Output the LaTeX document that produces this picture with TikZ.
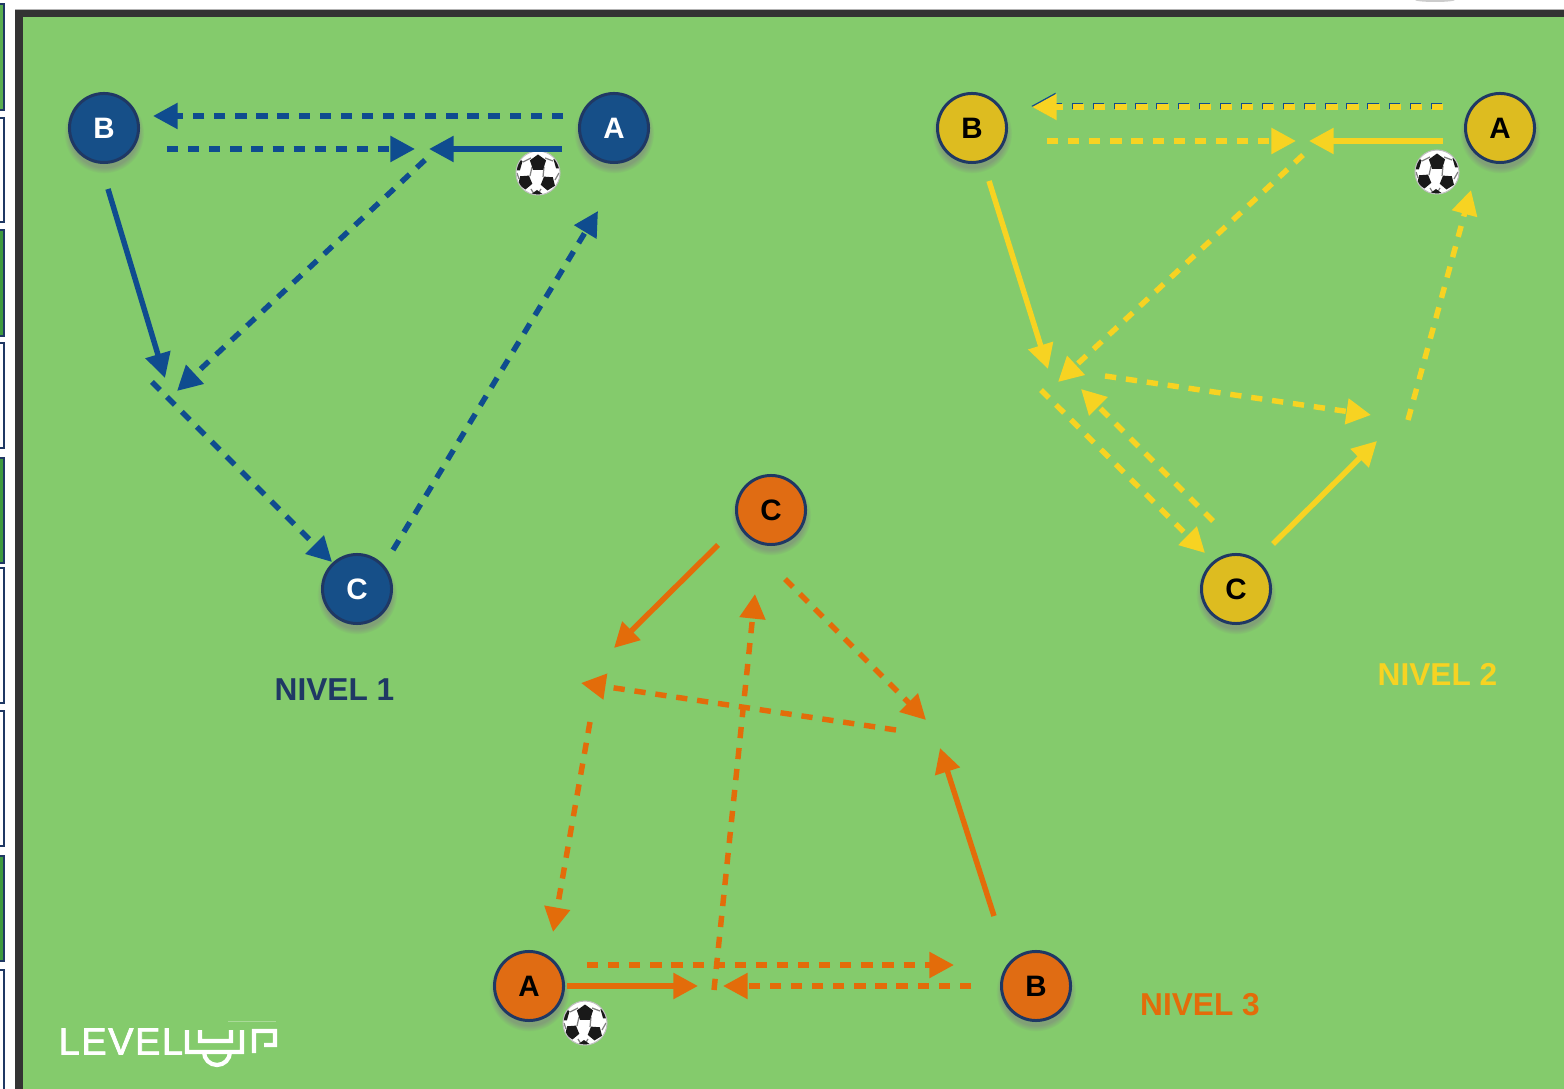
\documentclass[tikz,border=0pt]{standalone}
\usepackage{fontspec}
\setmainfont{Liberation Sans}
\usetikzlibrary{arrows.meta,shadows}
\definecolor{field}{HTML}{84CB6C}
\definecolor{frame}{HTML}{333333}
\definecolor{navy}{HTML}{1F3864}
\definecolor{bluefill}{HTML}{164F88}
\definecolor{blueline}{HTML}{0F4C8F}
\definecolor{yellowfill}{HTML}{DDBC20}
\definecolor{yellowline}{HTML}{F7D322}
\definecolor{orangefill}{HTML}{E06C13}
\definecolor{orangeline}{HTML}{E36C0A}
\definecolor{tabgreen}{HTML}{3F9A3F}
\tikzset{
    player/.style={circle, draw=navy, line width=0.85pt, minimum size=0.69cm,
        inner sep=0pt, font=\fontsize{8.4}{10}\selectfont\bfseries,
        circular drop shadow={shadow xshift=0pt, shadow yshift=-1.3pt, shadow scale=1.16, opacity=0.55}},
    run/.style={->, line width=1.55pt},
    pass/.style={run, dash pattern=on 3.2pt off 2.8pt},
    level/.style={font=\fontsize{9}{10}\selectfont\bfseries, inner sep=0pt},
    ball/.pic={
        \fill[white] (0,0) circle (22);
        \begin{scope}
            \clip (0,0) circle (22);
            \draw[gray, line width=0.35pt] (-6,-6) -- (-8,3) (6,-6) -- (5,4) (-7,16) -- (-4,21) (3,16) -- (0,21)
                (-7,-15) -- (-15,-11) (7,-15) -- (15,-12) (-19,6) -- (-21,0) (17,7) -- (21,0);
            \foreach \px/\py/\pr/\pa in {0/-10/8.5/-90, -13/9/7.5/-130, 10/10/7.5/-50, -23/-9/8/-20, 23/-11/8/-160, -1/25/8/-90}
                \fill[black!90] (\px,\py) +(\pa:\pr) -- +(\pa+72:\pr) -- +(\pa+144:\pr) -- +(\pa+216:\pr) -- +(\pa+288:\pr) -- cycle;
        \end{scope}
        \draw[gray!50, line width=0.3pt] (0,0) circle (22);
    },
}
\begin{document}
\begin{tikzpicture}[x=0.01cm, y=-0.01cm, >={Triangle[length=7pt, width=7.1pt]}]
    \useasboundingbox (0,0) rectangle (1564,1089);
    \clip (0,0) rectangle (1564,1089);

    \fill[frame] (15,10) rectangle (1564,1089);
    \fill[field] (23,17) rectangle (1564,1089);
    \draw[gray!60, line width=0.2pt] (15,9.5) -- (1564,9.5);
    \fill[gray!40] (1435,0) ellipse (20 and 2);

    \foreach \ytop/\ybot/\tab in {4/110/tabgreen!60!field, 118/222/white, 230/336/tabgreen, 343/448/white,
        458/563/tabgreen, 568/703/white, 711/846/white, 856/961/tabgreen, 970/1095/white}
        \draw[navy, fill=\tab, line width=0.7pt] (-8,\ytop) rectangle (4,\ybot);

    % nivel 1
    \node[player, fill=bluefill, text=white] (bB) at (104,128) {B};
    \node[player, fill=bluefill, text=white] (bA) at (614,128) {A};
    \node[player, fill=bluefill, text=white] (bC) at (357,589) {C};
    \pic (bBall) at (538,173) {ball};
    \node[level, text=navy] (bLevel) at (334.5,690) {NIVEL 1};

    \coordinate (b1) at (563,116); \coordinate (b2) at (153,116);
    \coordinate (b3) at (167,149); \coordinate (b4) at (415,149);
    \coordinate (b5) at (562,149); \coordinate (b6) at (429,149);
    \coordinate (b7) at (425,160); \coordinate (b8) at (177,391);
    \coordinate (b9) at (108,189); \coordinate (b10) at (165,378);
    \coordinate (b11) at (152,382); \coordinate (b12) at (332,562);
    \coordinate (b13) at (393,550); \coordinate (b14) at (598,211);

    \begin{scope}[blueline]
        \draw[pass] (b1) -- (b2);
        \draw[pass] (b3) -- (b4);
        \draw[run] (b5) -- (b6);
        \draw[pass] (b7) -- (b8);
        \draw[run] (b9) -- (b10);
        \draw[pass] (b11) -- (b12);
        \draw[pass] (b13) -- (b14);
    \end{scope}

    % nivel 2
    \node[player, fill=yellowfill] (yB) at (972,128) {B};
    \node[player, fill=yellowfill] (yA) at (1500,128) {A};
    \node[player, fill=yellowfill] (yC) at (1236,589) {C};
    \pic (yBall) at (1437,172) {ball};
    \node[level, text=yellowline] (yLevel) at (1437.5,674) {NIVEL 2};

    \coordinate (y1) at (1443,107); \coordinate (y2) at (1032,107);
    \coordinate (y1u) at (1442,106); \coordinate (y2u) at (1031,106);
    \coordinate (y3) at (1047,141); \coordinate (y4) at (1296,141);
    \coordinate (y5) at (1443,141); \coordinate (y6) at (1309,141);
    \coordinate (y7) at (1303,155); \coordinate (y8) at (1058,382);
    \coordinate (y9) at (989,181); \coordinate (y10) at (1048,369);
    \coordinate (y11) at (1105,376); \coordinate (y12) at (1371,415);
    \coordinate (y13) at (1041,390); \coordinate (y14) at (1205,553);
    \coordinate (y15) at (1213,521); \coordinate (y16) at (1081,389);
    \coordinate (y17) at (1273,544); \coordinate (y18) at (1377,441);
    \coordinate (y19) at (1408,420); \coordinate (y20) at (1471,190);

    \draw[pass, blueline] (y1u) -- (y2u);
    \begin{scope}[yellowline]
        \draw[pass] (y1) -- (y2);
        \draw[pass] (y3) -- (y4);
        \draw[run] (y5) -- (y6);
        \draw[pass] (y7) -- (y8);
        \draw[run] (y9) -- (y10);
        \draw[pass] (y11) -- (y12);
        \draw[pass] (y13) -- (y14);
        \draw[pass] (y15) -- (y16);
        \draw[run] (y17) -- (y18);
        \draw[pass] (y19) -- (y20);
    \end{scope}

    % nivel 3
    \node[player, fill=orangefill] (oC) at (771,510) {C};
    \node[player, fill=orangefill] (oA) at (529,986) {A};
    \node[player, fill=orangefill] (oB) at (1036,986) {B};
    \pic (oBall) at (585,1023) {ball};
    \node[level, text=orangeline] (oLevel) at (1200,1005) {NIVEL 3};

    \coordinate (o1) at (718,545); \coordinate (o2) at (614,648);
    \coordinate (o3) at (785,579); \coordinate (o4) at (926,720);
    \coordinate (o5) at (896,730); \coordinate (o6) at (581,683);
    \coordinate (o7) at (590,722); \coordinate (o8) at (553,932);
    \coordinate (o9) at (714,990); \coordinate (o10) at (755,594);
    \coordinate (o11) at (587,965); \coordinate (o12) at (954,965);
    \coordinate (o13) at (567,986); \coordinate (o14) at (698,986);
    \coordinate (o15) at (971,986); \coordinate (o16) at (723,986);
    \coordinate (o17) at (994,916); \coordinate (o18) at (940,748);

    \begin{scope}[orangeline]
        \draw[run] (o1) -- (o2);
        \draw[pass] (o3) -- (o4);
        \draw[pass] (o5) -- (o6);
        \draw[pass] (o7) -- (o8);
        \draw[pass] (o9) -- (o10);
        \draw[pass] (o11) -- (o12);
        \draw[run] (o13) -- (o14);
        \draw[pass] (o15) -- (o16);
        \draw[run] (o17) -- (o18);
    \end{scope}

    % logo
    \node[white, inner sep=0pt, anchor=west, font=\fontsize{10.8}{12}\selectfont\addfontfeature{LetterSpace=4,FakeBold=2}] (logo) at (58,1041.5) {LEVEL};
    \draw[white, line width=1.2pt]
        (187,1030) -- (187,1052) -- (242,1052) -- (242,1030)
        (200,1030) -- (200,1041) -- (231,1041) -- (231,1030)
        (204,1052) arc[start angle=180, end angle=360, x radius=13, y radius=-13]
        (254,1053) -- (254,1031) -- (275,1031) -- (275,1045) -- (264,1045);
    \draw[white, opacity=0.3, line width=0.2pt] (228,1021) -- (276,1021);
\end{tikzpicture}
\end{document}
